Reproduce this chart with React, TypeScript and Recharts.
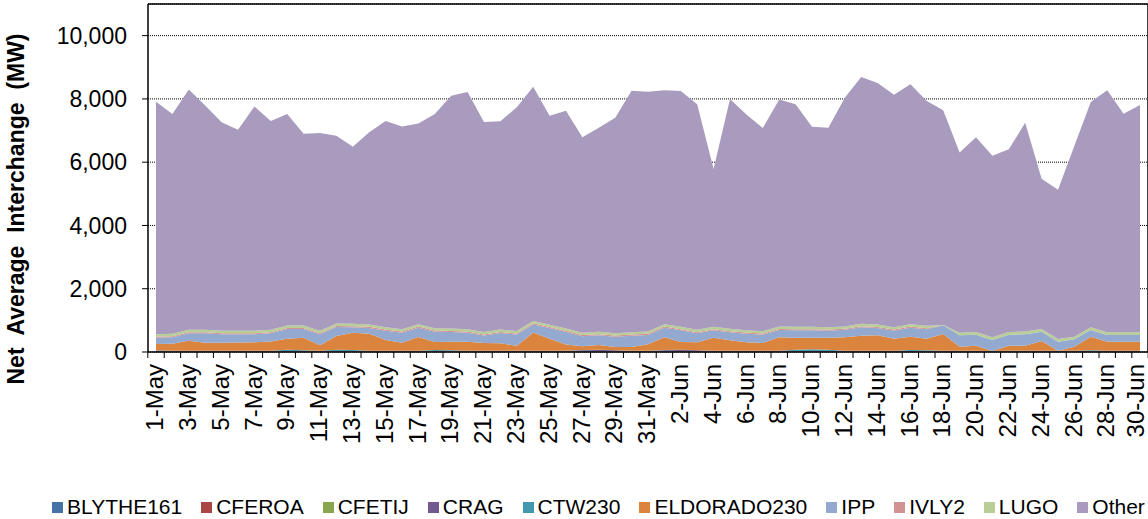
import React from "react";
import {
  Area,
  AreaChart,
  CartesianGrid,
  Legend,
  XAxis,
  YAxis,
} from "recharts";

const FONT = '"Liberation Sans", Arial, sans-serif';

const MAY = Array.from({ length: 31 }, (_, i) => `${i + 1}-May`);
const JUN = Array.from({ length: 30 }, (_, i) => `${i + 1}-Jun`);
const DAYS = [...MAY, ...JUN];

const Y_TICKS = [0, 2000, 4000, 6000, 8000, 10000];

// MW per day (bottom to top)
const BLYTHE161 = [
  25, 15, 10, 10, 10, 10, 10, 10, 10, 10, 10, 10, 10, 10, 10, 10, 10, 10, 10, 10,
  10, 10, 10, 10, 10, 10, 10, 10, 10, 10, 10, 10, 10, 10, 10, 10, 10, 10, 10, 10,
  10, 10, 10, 10, 10, 10, 10, 10, 10, 10, 10, 8, 10, 10, 10, 10, 10, 10, 10, 10, 10,
];
const CFEROA = [
  4, 4, 4, 4, 4, 4, 4, 4, 4, 4, 4, 4, 4, 4, 4, 4, 4, 4, 4, 4,
  4, 4, 4, 4, 4, 4, 4, 4, 4, 4, 4, 4, 4, 4, 4, 4, 4, 4, 4, 4,
  4, 4, 4, 4, 4, 4, 4, 4, 4, 4, 4, 2, 4, 4, 4, 4, 4, 4, 4, 4, 4,
];
const CFETIJ = [
  4, 4, 4, 4, 4, 4, 4, 4, 4, 4, 4, 4, 4, 4, 4, 4, 4, 4, 4, 4,
  4, 4, 4, 4, 4, 4, 4, 4, 4, 4, 4, 4, 4, 4, 4, 4, 4, 4, 4, 4,
  4, 4, 4, 4, 4, 4, 4, 4, 4, 4, 4, 2, 4, 4, 4, 4, 4, 4, 4, 4, 4,
];
const CRAG = [
  15, 15, 15, 15, 15, 15, 15, 15, 15, 15, 15, 15, 15, 15, 15, 15, 15, 15, 15, 15,
  15, 15, 15, 15, 15, 15, 40, 45, 35, 15, 15, 40, 45, 35, 15, 15, 15, 15, 15, 15,
  15, 15, 15, 15, 15, 15, 15, 15, 15, 15, 15, 15, 15, 15, 15, 15, 15, 15, 15, 15, 15,
];
const CTW230 = [
  10, 5, 5, 5, 5, 5, 5, 5, 35, 25, 5, 35, 30, 5, 5, 5, 5, 30, 20, 5,
  5, 5, 5, 5, 5, 5, 5, 5, 5, 5, 5, 5, 5, 5, 5, 5, 5, 5, 5, 40,
  50, 40, 5, 5, 5, 5, 30, 25, 5, 5, 5, 3, 5, 5, 5, 5, 5, 20, 5, 5, 5,
];
const ELDORADO230 = [
  195, 220, 320, 252, 257, 262, 267, 292, 353, 395, 173, 437, 548, 542, 341, 257, 436, 253, 274, 289,
  246, 236, 162, 577, 382, 202, 117, 152, 100, 120, 207, 400, 248, 247, 415, 331, 267, 246, 425, 380,
  370, 380, 425, 478, 489, 383, 422, 363, 531, 131, 162, 0, 162, 162, 310, 0, 131, 432, 289, 289, 289,
];
const IPP = [
  200, 200, 232, 300, 263, 258, 253, 260, 306, 274, 347, 285, 169, 180, 295, 316, 295, 327, 303, 284,
  236, 326, 350, 255, 335, 395, 320, 307, 327, 358, 295, 306, 369, 285, 232, 252, 275, 264, 232, 232,
  232, 221, 237, 264, 231, 253, 284, 295, 274, 358, 348, 349, 348, 360, 295, 289, 231, 210, 210, 210, 210,
];
const IVLY2 = [
  35, 35, 35, 35, 35, 35, 35, 35, 35, 35, 35, 35, 35, 35, 35, 35, 35, 35, 35, 35,
  35, 35, 35, 35, 35, 35, 35, 35, 35, 35, 35, 35, 35, 35, 35, 35, 35, 35, 35, 35,
  35, 35, 35, 35, 35, 35, 35, 35, 0, 0, 0, 0, 0, 0, 0, 0, 0, 0, 0, 0, 0,
];
const LUGO = [
  75, 75, 75, 75, 75, 75, 75, 75, 75, 75, 75, 75, 75, 75, 75, 75, 75, 75, 75, 75,
  75, 75, 75, 75, 75, 75, 75, 75, 75, 75, 75, 75, 75, 75, 75, 75, 75, 75, 75, 75,
  75, 75, 75, 75, 75, 75, 75, 75, 10, 85, 85, 85, 85, 85, 85, 85, 85, 85, 85, 85, 85,
];
const OTHER = [
  7347, 6947, 7600, 7090, 6592, 6357, 7092, 6600, 6683, 6063, 6252, 5935, 5600, 6080, 6516, 6409, 6346, 6767, 7360, 7494,
  6640, 6580, 7080, 7405, 6600, 6880, 6175, 6453, 6810, 7629, 7580, 7391, 7455, 7135, 4990, 7264, 6820, 6422, 7180, 7040,
  6325, 6306, 7225, 7800, 7632, 7346, 7581, 7104, 6792, 5698, 6152, 5741, 5772, 6600, 4747, 4718, 6035, 7120, 7648, 6908, 7183,
];

const SERIES = [
  { name: "BLYTHE161", color: "#4572A7", values: BLYTHE161 },
  { name: "CFEROA", color: "#AA4643", values: CFEROA },
  { name: "CFETIJ", color: "#89A54E", values: CFETIJ },
  { name: "CRAG", color: "#71588F", values: CRAG },
  { name: "CTW230", color: "#4198AF", values: CTW230 },
  { name: "ELDORADO230", color: "#DB843D", values: ELDORADO230 },
  { name: "IPP", color: "#93A9CF", values: IPP },
  { name: "IVLY2", color: "#D19392", values: IVLY2 },
  { name: "LUGO", color: "#B9CD96", values: LUGO },
  { name: "Other", color: "#A99BBD", values: OTHER },
];

const data = DAYS.map((day, i) => {
  const row: Record<string, string | number> = { day };
  SERIES.forEach((s) => {
    row[s.name] = s.values[i];
  });
  return row;
});

const WIDTH = 1148;
const HEIGHT = 519;
const HALF_STEP = 998 / DAYS.length / 2;

function DayTick(props: any) {
  const { x, y, payload, index } = props;
  const last = index === DAYS.length - 1;
  return (
    <g>
      <line x1={x - HALF_STEP} x2={x - HALF_STEP} y1={y} y2={y + 6} stroke="#000" />
      {last && <line x1={x + HALF_STEP} x2={x + HALF_STEP} y1={y} y2={y + 6} stroke="#000" />}
      {index % 2 === 0 && (
        <text
          x={x}
          y={y + 12}
          dy={last ? "0.15em" : "0.3em"}
          textAnchor="end"
          transform={`rotate(-90, ${x}, ${y + 12})`}
          fontSize={24}
          fontFamily={FONT}
          fill="#000"
        >
          {payload.value}
        </text>
      )}
    </g>
  );
}

function AxisTitle() {
  return (
    <text
      x={16}
      y={209}
      textAnchor="middle"
      dominantBaseline="central"
      transform="rotate(-90, 16, 209)"
      fontSize={23}
      fontWeight="bold"
      fontFamily={FONT}
      fill="#000"
      style={{ whiteSpace: "pre" }}
    >
      {"Net  Average  Interchange  (MW)"}
    </text>
  );
}

function LegendRow() {
  return (
    <div
      style={{
        display: "flex",
        justifyContent: "space-between",
        width: 1093,
        fontFamily: FONT,
        fontSize: 21,
        color: "#000",
        lineHeight: "22px",
      }}
    >
      {SERIES.map((s) => (
        <span key={s.name} style={{ display: "flex", alignItems: "center" }}>
          <span
            style={{
              width: 11,
              height: 11,
              background: s.color,
              marginRight: 4,
              display: "inline-block",
            }}
          />
          {s.name}
        </span>
      ))}
    </div>
  );
}

export default function App() {
  return (
    <div style={{ position: "absolute", left: 0, top: 0, width: WIDTH, height: HEIGHT, background: "#fff" }}>
      <AreaChart
        width={WIDTH}
        height={HEIGHT}
        data={data}
        margin={{ top: 0, right: 0, left: 0, bottom: 0 }}
      >
        <CartesianGrid
          vertical={false}
          stroke="#000"
          strokeDasharray="1 1"
          yAxisId="left"
        />
        <XAxis
          dataKey="day"
          height={167}
          interval={0}
          tickSize={0}
          tickMargin={0}
          tick={<DayTick />}
          padding={{ left: 8, right: 8 }}
          axisLine={{ stroke: "#000", strokeWidth: 1.5 }}
        />
        <XAxis
          xAxisId="top"
          dataKey="day"
          orientation="top"
          height={4}
          tick={false}
          tickLine={false}
          axisLine={{ stroke: "#000", strokeWidth: 1.5 }}
        />
        <YAxis
          yAxisId="left"
          width={148}
          domain={[0, 11000]}
          ticks={Y_TICKS}
          allowDataOverflow
          tickFormatter={(v: number) => v.toLocaleString("en-US")}
          tick={{ fontSize: 23, fontFamily: FONT, fill: "#000" }}
          tickSize={6}
          tickMargin={15}
          tickLine={{ stroke: "#000" }}
          axisLine={{ stroke: "#000", strokeWidth: 1.5 }}
          label={<AxisTitle />}
        />
        <YAxis
          yAxisId="right"
          orientation="right"
          width={2}
          domain={[0, 11000]}
          ticks={Y_TICKS}
          mirror
          tickFormatter={() => ""}
          tickSize={5}
          tickLine={{ stroke: "#000" }}
          axisLine={{ stroke: "#000", strokeWidth: 1.5 }}
        />
        {SERIES.map((s) => (
          <Area
            key={s.name}
            yAxisId="left"
            type="linear"
            dataKey={s.name}
            stackId="mw"
            fill={s.color}
            fillOpacity={1}
            stroke="none"
            isAnimationActive={false}
          />
        ))}
        <Legend
          layout="horizontal"
          verticalAlign="middle"
          align="center"
          content={<LegendRow />}
          wrapperStyle={{ top: 496, left: 52, width: 1093 }}
        />
      </AreaChart>
    </div>
  );
}
